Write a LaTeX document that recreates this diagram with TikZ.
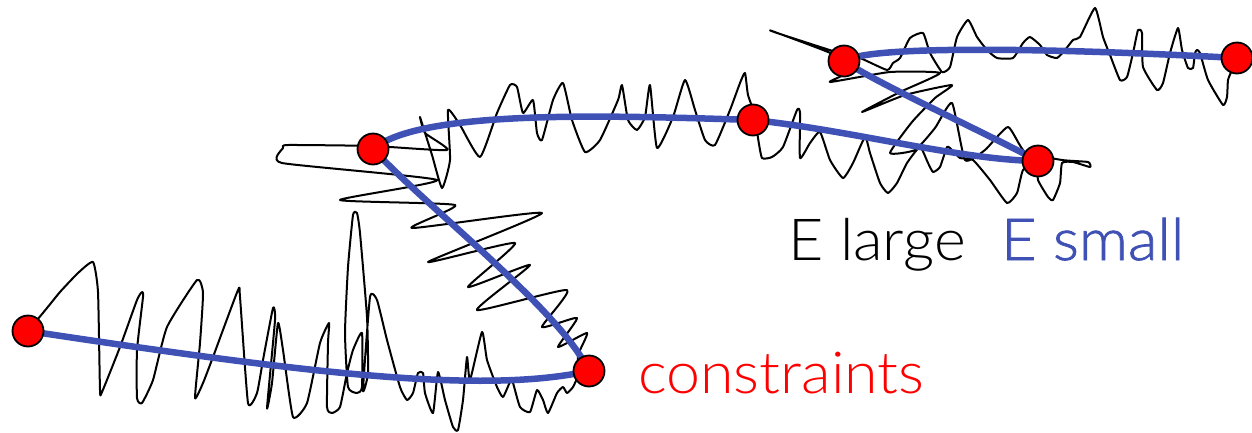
\documentclass[tikz,border=0pt]{standalone}
\usepackage{fontspec}
\newfontfamily\labelfont[FakeStretch=1.05]{Lato Light}
\newfontfamily\boldlabelfont[FakeStretch=1.05, FakeBold=1.3]{Lato Light}
\usepackage{tikz}
\pgfdeclarelayer{edgelayer}
\pgfdeclarelayer{nodelayer}
\pgfsetlayers{edgelayer,main,nodelayer}
\definecolor{indigo}{RGB}{63,81,181}
\tikzstyle{vertex}=[circle, fill=red, draw=black, line width=1.8pt, minimum size=31pt, inner sep=0pt]
\tikzstyle{blueedge}=[draw=indigo, line width=6.5pt]
\tikzstyle{noise}=[draw=black, line width=2pt, line join=round]
\tikzstyle{textlabel}=[anchor=base west, inner sep=0pt, font=\labelfont\fontsize{58}{62}\selectfont]

\begin{document}
\begin{tikzpicture}[x=1pt, y=-1pt]
	\useasboundingbox (0,0) rectangle (1252,432);
	\begin{pgfonlayer}{nodelayer}
		\node [style=vertex] (c1) at (28, 331) {};
		\node [style=vertex] (c2) at (589, 371) {};
		\node [style=vertex] (c3) at (373, 149) {};
		\node [style=vertex] (c4) at (753, 120) {};
		\node [style=vertex] (c5) at (1038, 161) {};
		\node [style=vertex] (c6) at (844, 61) {};
		\node [style=vertex] (c7) at (1237, 58) {};
	\end{pgfonlayer}
	\begin{pgfonlayer}{edgelayer}
		% noisy path
		\draw [style=noise] plot [smooth, tension=0.3] coordinates {
			(c1) (47,308) (60,292) (78,273) (93,262) (98,292) (100,390) (102,392) (120,347) (137,300) (142,292) (143,297) (137,350) (137,398) (142,403) (153,380) (167,327) (197,280) (203,293) (200,343) (195,398) (203,383) (213,357) (238,290) (240,297) (248,403) (257,393) (263,360) (273,308) (275,320) (267,408) (272,383) (278,323) (283,350) (293,417) (307,403) (320,343) (329,323) (328,343) (327,407) (332,413) (340,407) (347,373) (353,350) (362,333) (362,387) (357,393) (348,387) (345,333) (348,267) (353,215) (357,213) (360,233) (367,317) (368,373) (363,390) (370,297) (377,300) (387,340) (400,387) (407,400) (413,393) (418,373) (423,373) (425,393) (433,413) (438,372) (445,400) (453,427) (458,430) (463,400) (467,357) (470,380) (482,332) (487,360) (497,387) (503,397) (510,382) (513,383) (520,407) (530,412) (537,390) (543,400) (548,413) (557,393) (563,387) (567,393) (573,387) (578,375)
			(578,355) (587,333) (558,347) (577,318) (542,327) (567,290) (477,310) (530,265) (468,287) (515,243) (428,262) (542,213) (412,228) (455,205) (340,200) (437,180) (282,163) (283,148) (288,145) (373,146) (447,150)
			(425,133) (420,117) (432,155) (442,188) (450,160) (448,110) (460,125) (480,157) (497,113) (510,85) (517,87) (523,113) (533,100) (537,133) (542,140) (553,100) (563,83) (572,120) (585,152) (600,140) (618,100) (622,85) (628,120) (637,130) (645,117) (650,85) (657,148) (673,117) (685,80) (695,110) (705,140) (715,145) (730,110) (740,83) (745,73) (748,95) (755,115)
			(758,138) (762,158) (772,157) (783,147) (797,110) (800,113) (800,158) (810,143) (820,132) (830,160) (843,178) (853,163) (865,137) (870,153) (880,183) (888,193) (897,183) (907,163) (920,147) (928,163) (933,172) (940,167) (947,147) (952,150) (960,158) (973,160) (990,180) (1007,203) (1017,193) (1023,170) (1037,162) (1038,180) (1048,197) (1053,200) (1060,183) (1062,163) (1073,162) (1090,167) (1088,162) (1062,160)
			(1025,152) (1008,127) (985,150) (965,160) (952,103) (935,128) (915,150) (890,153) (912,122) (935,98) (952,85) (905,95) (862,112) (900,92) (940,73) (890,72) (830,82) (848,72) (835,55) (772,31) (777,33) (836,52) (860,58)
			(887,70) (893,63) (900,58) (910,38) (923,33) (930,53) (942,72) (950,67) (957,37) (968,20) (977,37) (987,50) (997,58) (1013,58) (1023,43) (1030,37) (1040,45) (1047,55) (1057,58) (1065,50) (1073,40) (1080,37) (1095,8) (1103,37) (1110,55) (1120,80) (1127,77) (1133,53) (1138,30) (1142,33) (1143,67) (1157,90) (1163,83) (1170,53) (1178,28) (1182,50) (1188,68) (1193,68) (1195,53) (1197,50) (1200,53) (1208,80) (1223,105) (1227,97) (1228,80) (1232,70)};
	\end{pgfonlayer}
	% smooth solution through the constraints
	\draw [style=blueedge] (c1.center) .. controls (300,372) and (480,395) .. (c2.center);
	\draw [style=blueedge] (c2.center) .. controls (560,310) and (430,210) .. (c3.center);
	\draw [style=blueedge] (c3.center) .. controls (420,110) and (600,115) .. (c4.center);
	\draw [style=blueedge] (c4.center) .. controls (850,130) and (960,160) .. (c5.center);
	\draw [style=blueedge] (c5.center) .. controls (980,130) and (880,85) .. (c6.center);
	\draw [style=blueedge] (c6.center) .. controls (870,45) and (1050,48) .. (c7.center);
	\node [style=textlabel] (large) at (788, 260) {E large};
	\node [style=textlabel, text=indigo, font=\boldlabelfont\fontsize{58}{62}\selectfont] (small) at (1001, 260) {E small};
	\node [style=textlabel, text=red] (constr) at (638, 393) {constraints};
\end{tikzpicture}
\end{document}
